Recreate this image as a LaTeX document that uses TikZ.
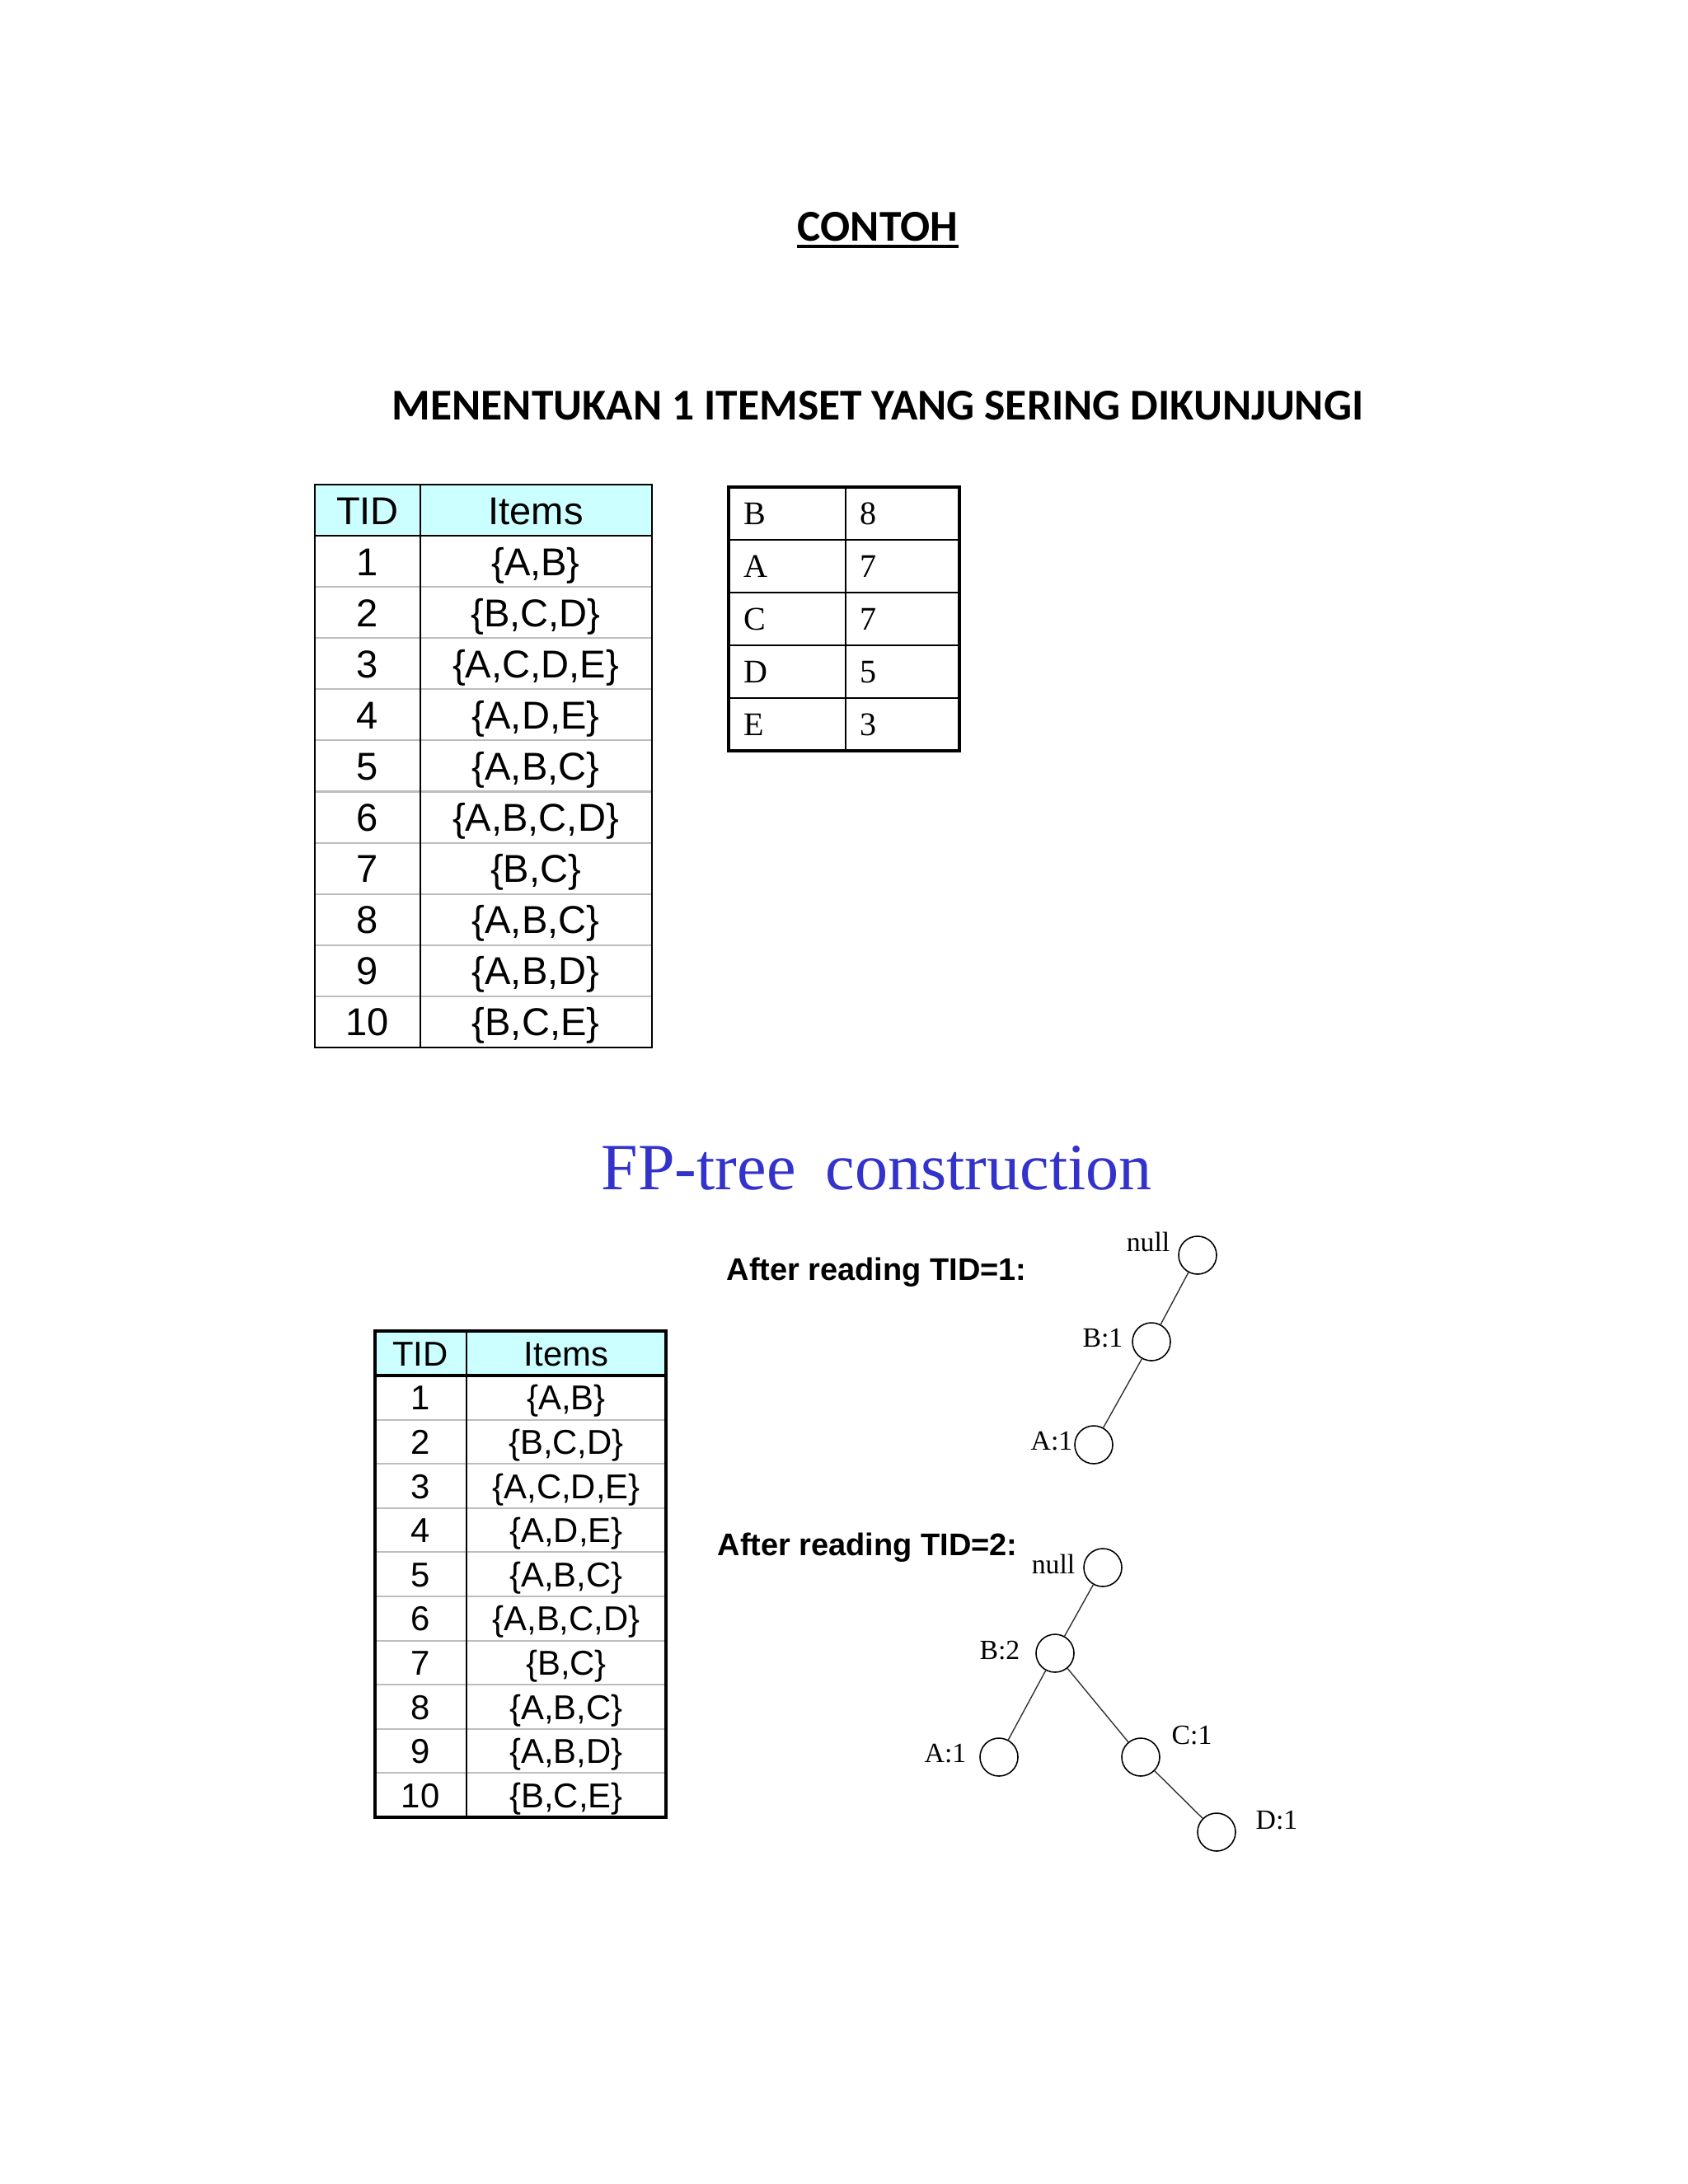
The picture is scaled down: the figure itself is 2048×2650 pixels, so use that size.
\documentclass[tikz,border=0pt]{standalone}
\usepackage{fontspec}
\setmainfont{Liberation Serif}
\newfontfamily\carlitofont{Carlito}
\newfontfamily\arialfont{Liberation Sans}
\newfontfamily\timesfont{Liberation Serif}
\usetikzlibrary{positioning,calc}
\definecolor{HeaderCyan}{HTML}{CCFFFF}
\definecolor{RuleGray}{HTML}{BDBDBD}
\definecolor{TitleBlue}{HTML}{3333CC}
\newcommand{\tidrows}{1/{A,B},2/{B,C,D},3/{A,C,D,E},4/{A,D,E},5/{A,B,C},6/{A,B,C,D},7/{B,C},8/{A,B,C},9/{A,B,D},10/{B,C,E}}

\begin{document}
\begin{tikzpicture}[x=0.1mm,y=-0.1mm,
        every node/.style={inner sep=0pt},
        heading/.style={font=\carlitofont\bfseries\fontsize{15.2}{18}\selectfont,anchor=base},
        bigcell/.style={font=\arialfont\fontsize{13.4}{16}\selectfont,anchor=base},
        smallcell/.style={font=\arialfont\fontsize{11.9}{14}\selectfont,anchor=base},
        freqcell/.style={font=\timesfont\fontsize{11.4}{13}\selectfont,anchor=base west},
        caption/.style={font=\arialfont\bfseries\fontsize{10.8}{13}\selectfont,anchor=base west},
        treenode/.style={draw,circle,minimum size=4.6mm,line width=0.45pt},
        treelbl/.style={font=\timesfont\fontsize{9.6}{11}\selectfont},
        edge/.style={draw=black!80,line width=0.4pt}
      ]
        \fill[white] (0,0) rectangle (2048,2650);
        \useasboundingbox (0,0) rectangle (2048,2650);

        \node[heading] (contoh) at (1065,292) {CONTOH};
        \draw[line width=1.1pt] ($(contoh.base west)+(0,7)$) -- ($(contoh.base east)+(0,7)$);
        \node[heading] (subtitle) at (1065,509) {MENENTUKAN 1 ITEMSET YANG SERING DIKUNJUNGI};

        % transactions, large
        \fill[HeaderCyan] (382,588) rectangle (791,650);
        \node[bigcell] (tidAh) at (446,636) {TID};
        \node[bigcell] (itemAh) at (650,636) {Items};
        \foreach \n/\s in \tidrows {
          \node[bigcell] (tidA\n) at (446,{650+(\n-0.5)*62.1+17}) {\n};
          \node[bigcell] (itemA\n) at (650,{650+(\n-0.5)*62.1+17}) {\{\s\}};
        }
        \foreach \i in {1,...,9}
          \draw[RuleGray,line width=0.6pt] (382,{650+\i*62.1}) -- (791,{650+\i*62.1});
        \draw[line width=0.6pt] (382,650) -- (791,650);
        \draw[line width=0.6pt] (510,588) -- (510,1271);
        \draw[line width=0.7pt] (382,588) rectangle (791,1271);

        % item counts
        \foreach \k/\f [count=\r] in {B/8,A/7,C/7,D/5,E/3} {
          \node[freqcell] (item\r) at (902,{591+(\r-0.5)*64+13}) {\k};
          \node[freqcell] (freq\r) at (1043,{591+(\r-0.5)*64+13}) {\f};
        }
        \foreach \r in {1,...,4}
          \draw[line width=0.6pt] (884,{591+\r*64}) -- (1164,{591+\r*64});
        \draw[line width=0.6pt] (1026,591) -- (1026,911);
        \draw[line width=1pt] (884,591) rectangle (1164,911);

        \node[font=\timesfont\fontsize{22.8}{27}\selectfont,text=TitleBlue,anchor=base west] (fptitle) at (729,1443) {FP-tree\hspace{0.45em}construction};

        % transactions, small
        \fill[HeaderCyan] (455,1615) rectangle (808,1669);
        \node[smallcell] (tidBh) at (510,1657) {TID};
        \node[smallcell] (itemBh) at (687,1657) {Items};
        \foreach \n/\s in \tidrows {
          \node[smallcell] (tidB\n) at (510,{1669+(\n-0.5)*53.6+15}) {\n};
          \node[smallcell] (itemB\n) at (687,{1669+(\n-0.5)*53.6+15}) {\{\s\}};
        }
        \foreach \i in {1,...,9}
          \draw[RuleGray,line width=0.6pt] (455,{1669+\i*53.6}) -- (808,{1669+\i*53.6});
        \draw[line width=0.9pt] (455,1669) -- (808,1669);
        \draw[line width=0.6pt] (566,1615) -- (566,2205);
        \draw[line width=0.9pt] (455,1615) rectangle (808,2205);

        % tree after TID=1
        \node[caption] (capA) at (881,1553) {After reading TID=1:};
        \node[treenode] (nullA) at (1453,1523) {};
        \node[treenode] (bA) at (1397,1628) {};
        \node[treenode] (aA) at (1327,1753) {};
        \node[treelbl,anchor=base east] (nullAl) at (1420,1518) {null};
        \node[treelbl,anchor=base east] (bAl) at (1363,1634) {B:1};
        \node[treelbl,anchor=base east] (aAl) at (1302,1759) {A:1};
        \draw[edge] (nullA) -- (bA);
        \draw[edge] (bA) -- (aA);

        % tree after TID=2
        \node[caption] (capB) at (870,1887) {After reading TID=2:};
        \node[treenode] (nullB) at (1338,1902) {};
        \node[treenode] (bB) at (1280,2006) {};
        \node[treenode] (aB) at (1212,2132) {};
        \node[treenode] (cB) at (1384,2132) {};
        \node[treenode] (dB) at (1476,2223) {};
        \node[treelbl,anchor=base east] (nullBl) at (1305,1909) {null};
        \node[treelbl,anchor=base east] (bBl) at (1238,2013) {B:2};
        \node[treelbl,anchor=base east] (aBl) at (1173,2138) {A:1};
        \node[treelbl,anchor=base west] (cBl) at (1421,2116) {C:1};
        \node[treelbl,anchor=base west] (dBl) at (1523,2219) {D:1};
        \draw[edge] (nullB) -- (bB);
        \draw[edge] (bB) -- (aB);
        \draw[edge] (bB) -- (cB);
        \draw[edge] (cB) -- (dB);
      \end{tikzpicture}
\end{document}
